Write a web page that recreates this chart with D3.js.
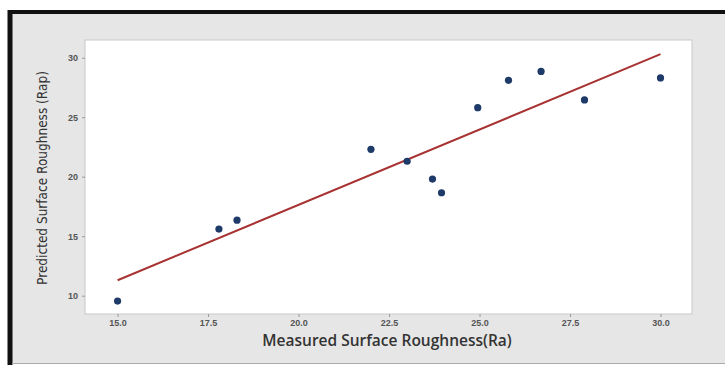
<!DOCTYPE html>
<html>
<head>
<meta charset="utf-8">
<script src="https://cdn.jsdelivr.net/npm/d3@7"></script>
<style>
  html, body { margin: 0; padding: 0; background: #fff; }
  svg { display: block; font-family: "Open Sans", "DejaVu Sans", sans-serif; }
  .tick text { fill: #555; font-size: 9px; font-weight: 600; }
  .tick line { stroke: #999; }
  .domain { display: none; }
</style>
</head>
<body>
<div id="chart"></div>
<script>
"use strict";

// measured vs predicted roughness
var measured  = [15.0, 17.8, 18.3, 22.0, 23.0, 23.7, 23.95, 24.95, 25.8, 26.7, 27.9, 30.0];
var predicted = [9.55, 15.6, 16.35, 22.3, 21.3, 19.8, 18.65, 25.8, 28.1, 28.85, 26.45, 28.3];

// fitted line end points
var fitX = [15.0, 30.0];
var fitY = [11.3, 30.3];

var xTicks = [15.0, 17.5, 20.0, 22.5, 25.0, 27.5, 30.0];
var yTicks = [10, 15, 20, 25, 30];

var W = 725, H = 365;
var plot = { left: 85, right: 692, top: 40, bottom: 314 };

var svg = d3.select("#chart").append("svg")
  .attr("width", W)
  .attr("height", H);

// window background + black frame
svg.append("rect")
  .attr("x", 0).attr("y", 0)
  .attr("width", W).attr("height", H)
  .attr("fill", "#fff");

svg.append("rect")
  .attr("x", 11).attr("y", 12)
  .attr("width", W - 11).attr("height", H - 13)
  .attr("fill", "#e6e6e6");

svg.append("line")
  .attr("x1", 10).attr("x2", W)
  .attr("y1", 12).attr("y2", 12)
  .attr("stroke", "#111").attr("stroke-width", 4);

svg.append("line")
  .attr("x1", 10).attr("x2", 10)
  .attr("y1", 10).attr("y2", H)
  .attr("stroke", "#111").attr("stroke-width", 5);

svg.append("line")
  .attr("x1", 12).attr("x2", W)
  .attr("y1", H - 1.5).attr("y2", H - 1.5)
  .attr("stroke", "#aaa").attr("stroke-width", 1);

// plot area
svg.append("rect")
  .attr("x", plot.left).attr("y", plot.top)
  .attr("width", plot.right - plot.left)
  .attr("height", plot.bottom - plot.top)
  .attr("fill", "#fff")
  .attr("stroke", "#c8c8c8");

var x = d3.scaleLinear()
  .domain([14.1, 30.87])
  .range([plot.left, plot.right]);

var y = d3.scaleLinear()
  .domain([8.46, 31.49])
  .range([plot.bottom, plot.top]);

var xAxis = d3.axisBottom(x)
  .tickValues(xTicks)
  .tickFormat(d3.format(".1f"))
  .tickSize(3)
  .tickPadding(3);

var yAxis = d3.axisLeft(y)
  .tickValues(yTicks)
  .tickFormat(d3.format("d"))
  .tickSize(3)
  .tickPadding(4);

svg.append("g")
  .attr("transform", "translate(0," + plot.bottom + ")")
  .call(xAxis);

svg.append("g")
  .attr("transform", "translate(" + plot.left + ",0)")
  .call(yAxis);

// fit line
var line = d3.line()
  .x(function(d) { return x(d[0]); })
  .y(function(d) { return y(d[1]); });

svg.append("path")
  .datum(d3.zip(fitX, fitY))
  .attr("d", line)
  .attr("fill", "none")
  .attr("stroke", "#a83232")
  .attr("stroke-width", 2);

// points
svg.selectAll(".pt")
  .data(d3.zip(measured, predicted))
  .enter().append("circle")
  .attr("class", "pt")
  .attr("cx", function(d) { return x(d[0]); })
  .attr("cy", function(d) { return y(d[1]); })
  .attr("r", 3.6)
  .attr("fill", "#1d3a68");

// axis titles
svg.append("text")
  .attr("x", 387)
  .attr("y", 346)
  .attr("text-anchor", "middle")
  .attr("font-size", 15.5)
  .attr("font-weight", 600)
  .attr("fill", "#333")
  .text("Measured Surface Roughness(Ra)");

svg.append("text")
  .attr("transform", "translate(47,178) rotate(-90)")
  .attr("text-anchor", "middle")
  .attr("font-size", 13.5)
  .attr("fill", "#333")
  .attr("font-family", "'Liberation Sans Narrow', 'DejaVu Sans Condensed', sans-serif")
  .text("Predicted Surface Roughness (Rap)");
</script>
</body>
</html>
